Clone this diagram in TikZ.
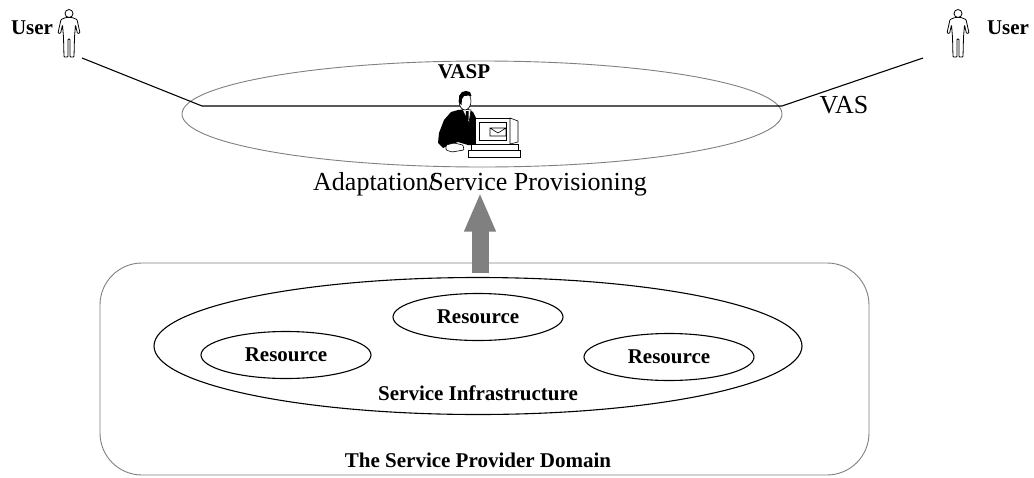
\documentclass[tikz,border=0pt]{standalone}
\usepackage{fontspec}
\setmainfont{Liberation Serif}
\usetikzlibrary{shapes.geometric,arrows.meta,calc,positioning}

\begin{document}
\begin{tikzpicture}[x=1pt, y=-1pt,
    every node/.append style={inner sep=0pt, outer sep=0pt},
    lbl/.style={font=\fontsize{21}{25}\selectfont\bfseries, anchor=base},
    big/.style={font=\fontsize{26}{30}\selectfont, anchor=base},
    res/.style={draw, ellipse, line width=1.1pt, minimum width=170pt, minimum height=47pt,
      font=\fontsize{21}{25}\selectfont\bfseries},
    grayline/.style={draw=gray, line width=0.9pt},
    bigarrow/.style={draw=gray, line width=17pt, -{Triangle[length=39pt, width=29pt]}},
    usericon/.pic={
      \filldraw[fill=white, line width=0.8pt, rounded corners=0.8pt]
        (-3,8.5) -- (-8,10.5) -- (-11,24) -- (-8.5,24.5) -- (-6.5,16) -- (-5.5,28) -- (-5,48)
        -- (-1,48) -- (-1,30) -- (1,30) -- (1,48) -- (5,48) -- (5.5,28) -- (6.5,16)
        -- (8.5,24.5) -- (11,24) -- (8,10.5) -- (3,8.5) -- cycle;
      \filldraw[fill=white, line width=0.8pt] (0,4.5) circle (4);
    },
    vaspman/.pic={
      \fill (20,20) -- (13,22) -- (6,30) -- (1,43) -- (0,53) -- (5,58) -- (9,56) -- (20,52)
        -- (30,55) -- (38,55) -- (38,28) -- (35,22) -- (30,19) -- cycle;
      \filldraw[fill=white, line width=.6pt, rounded corners=1pt]
        (8,55) -- (16,53) -- (25,55) -- (26,60) -- (14,62) -- (8,60) -- cycle;
      \filldraw[fill=white, line width=.6pt] (24,19) -- (33,20) -- (31,33) -- cycle;
      \fill (28,21) -- (30.5,21) -- (30.5,30) -- (29,32) -- (27.5,30) -- cycle;
      \filldraw[fill=white, line width=.6pt] (27,11) ellipse (6 and 9);
      \fill (21,13) -- (21,6) -- (24,2) -- (28,1) -- (32,2) -- (33.5,6) -- (31,5.5)
        -- (26,6) -- (24,9) -- (23.5,15) -- cycle;
      \filldraw[fill=white, line width=.6pt] (37,28) rectangle (72,54);
      \filldraw[fill=white, line width=.6pt] (72,28) -- (80,31) -- (80,52) -- (72,54) -- cycle;
      \draw[line width=.6pt] (41,32) rectangle (68,50);
      \draw[line width=.6pt] (52,38) rectangle (68,46) (52,38) -- (60,43) -- (68,38);
      \filldraw[fill=white, line width=.6pt] (33,54) rectangle (80,60);
      \filldraw[fill=white, line width=.6pt] (30,60) rectangle (82,67);
    }]
    \useasboundingbox (0,0) rectangle (1034,477);

    \node (Domain) [grayline, rounded corners=42pt, minimum width=769pt, minimum height=212pt] at (484.5,369) {};
    \node (DomainLbl) [lbl] at (478,467) {The Service Provider Domain};
    \node (Infra) [draw, ellipse, line width=1.1pt, minimum width=648pt, minimum height=137pt] at (478,346) {};
    \node (InfraLbl) [lbl] at (478,400) {Service Infrastructure};
    \node (Res1) [res] at (286,355) {Resource};
    \node (Res2) [res] at (478,317) {Resource};
    \node (Res3) [res] at (669,357) {Resource};

    \node (VASP) [grayline, ellipse, minimum width=600pt, minimum height=106pt] at (482,114) {};
    \node (VASPLbl) [lbl] at (464,78) {VASP};
    \node (VAS) [big] at (844,113) {VAS};
    \node (Adapt) [big] at (480,190) {Adaptation/\kern-.25em Service Provisioning};

    \draw[bigarrow] ($(Domain.north -| Adapt.south)+(0,10)$) -- ($(Adapt.south)+(0,-3)$);

    \node (UserLLbl) [lbl] at (32,34) {User};
    \node (UserRLbl) [lbl] at (1008,34) {User};
    \pic (UserL) at (69,9) {usericon};
    \pic (UserR) at (958,9) {usericon};

    \coordinate (UserLLink) at (82,58);
    \coordinate (UserRLink) at (923,58);
    \coordinate (Bend) at (202,106);
    \draw[line width=1.1pt] (UserLLink) -- (Bend) -- (Bend -| VASP.east) -- (UserRLink);

    \pic (Man) at (438,90) {vaspman};
\end{tikzpicture}
\end{document}
